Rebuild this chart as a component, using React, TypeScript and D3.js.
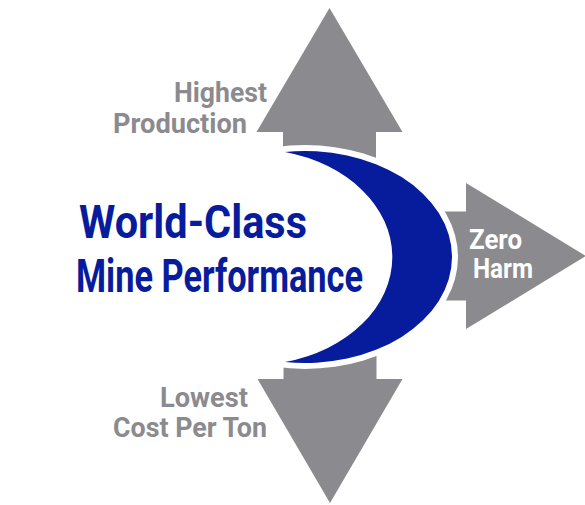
import { useEffect, useRef } from "react";
import * as d3 from "d3";

const W = 585;
const H = 505;

const BLUE = "#071c9c";
const GRAY = "#8b8b8f";

// label lines: text, left x, baseline, width
const headline = ["World-Class", "Mine Performance"];
const headlineX = [79, 76];
const headlineY = [238, 292];
const headlineW = [228, 287];

const upLabel = ["Highest", "Production"];
const upX = [174, 113];
const upY = [102, 133];
const upW = [93, 134];

const downLabel = ["Lowest", "Cost Per Ton"];
const downX = [160, 113];
const downY = [407, 437];
const downW = [88, 154];

const rightLabel = ["Zero", "Harm"];
const rightX = [469, 473];
const rightY = [249, 278];
const rightW = [53, 60];

type Arrow = { tip: [number, number]; dir: "up" | "down" | "right"; head: number; headHalf: number; shaftHalf: number; end: number };

const arrows: Arrow[] = [
  { tip: [329.5, 8], dir: "up", head: 124, headHalf: 73, shaftHalf: 46.5, end: 220 },
  { tip: [330, 503], dir: "down", head: 124, headHalf: 72.5, shaftHalf: 46.5, end: 300 },
  { tip: [586, 256], dir: "right", head: 120, headHalf: 73, shaftHalf: 44.5, end: 400 },
];

function arrowPoints(a: Arrow): [number, number][] {
  const [tx, ty] = a.tip;
  if (a.dir === "right") {
    const bx = tx - a.head;
    return [
      [tx, ty], [bx, ty - a.headHalf], [bx, ty - a.shaftHalf], [a.end, ty - a.shaftHalf],
      [a.end, ty + a.shaftHalf], [bx, ty + a.shaftHalf], [bx, ty + a.headHalf],
    ];
  }
  const s = a.dir === "up" ? 1 : -1;
  const by = ty + s * a.head;
  return [
    [tx, ty], [tx + a.headHalf, by], [tx + a.shaftHalf, by], [tx + a.shaftHalf, a.end],
    [tx - a.shaftHalf, a.end], [tx - a.shaftHalf, by], [tx - a.headHalf, by],
  ];
}

// crescent: outer ellipse and inner ellipse meeting at the two tips
const outer = { cx: 305, cy: 257, rx: 147, ry: 106 };
const inner = { rx: 140, ry: 108 };
const gap = 6;

export default function App() {
  const ref = useRef<SVGSVGElement>(null);

  useEffect(() => {
    if (!ref.current) return;
    const svg = d3.select(ref.current);
    svg.selectAll("*").remove();

    const line = d3.line<[number, number]>().curve(d3.curveLinearClosed);

    svg.append("g").selectAll("path")
      .data(arrows)
      .join("path")
      .attr("d", (d) => line(arrowPoints(d)))
      .attr("fill", GRAY);

    // white halo behind the crescent
    svg.append("ellipse")
      .attr("cx", outer.cx).attr("cy", outer.cy)
      .attr("rx", outer.rx + gap).attr("ry", outer.ry + gap)
      .attr("fill", "#fff");

    const tipX = 285;
    const dy = outer.ry * Math.sqrt(1 - ((tipX - outer.cx) / outer.rx) ** 2);
    const top = outer.cy - dy;
    const bot = outer.cy + dy;
    const p = `M${tipX},${top}` +
      `A${outer.rx},${outer.ry} 0 1 1 ${tipX},${bot}` +
      `A${inner.rx},${inner.ry} 0 0 0 ${tipX},${top}Z`;
    svg.append("path").attr("d", p).attr("fill", BLUE);

    const font = "Roboto, 'Liberation Sans', sans-serif";

    const addText = (lines: string[], xs: number[], ys: number[], ws: number[], size: number, color: string) => {
      svg.append("g").selectAll("text")
        .data(lines)
        .join("text")
        .attr("x", (_, i) => xs[i])
        .attr("y", (_, i) => ys[i])
        .attr("textLength", (_, i) => ws[i])
        .attr("lengthAdjust", "spacingAndGlyphs")
        .attr("font-family", font)
        .attr("font-weight", "bold")
        .attr("font-size", size)
        .attr("fill", color)
        .text((d) => d);
    };

    addText(headline, headlineX, headlineY, headlineW, 46, BLUE);
    addText(upLabel, upX, upY, upW, 28, GRAY);
    addText(downLabel, downX, downY, downW, 28, GRAY);
    addText(rightLabel, rightX, rightY, rightW, 27, "#fff");
  }, []);

  return (
    <svg
      ref={ref}
      width={W}
      height={H}
      style={{ position: "fixed", left: 0, top: 0, background: "#fff" }}
    />
  );
}
